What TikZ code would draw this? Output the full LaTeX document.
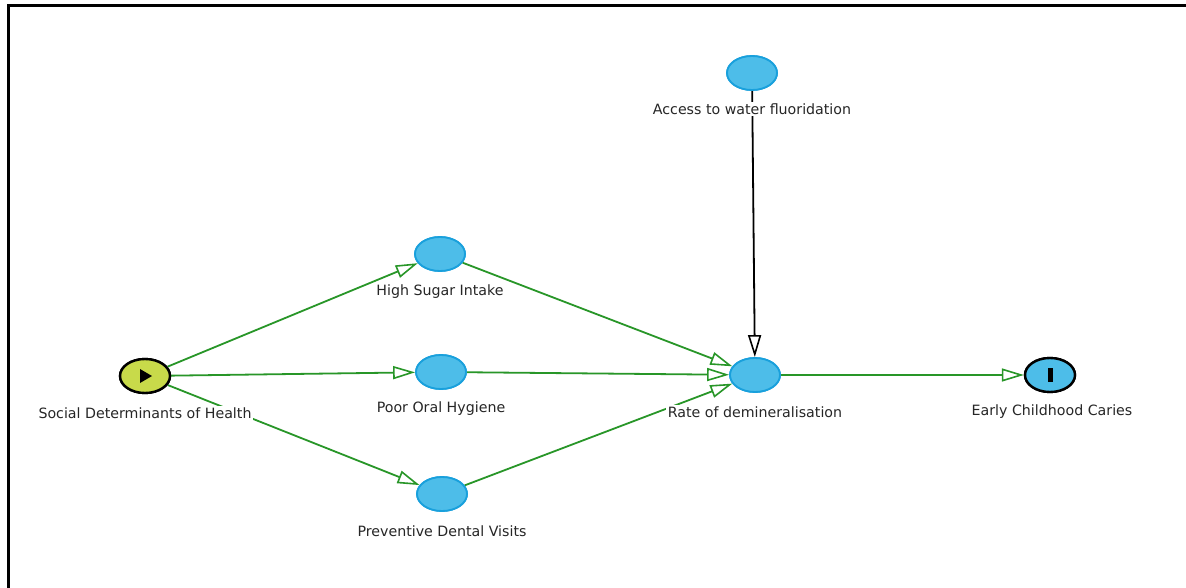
\documentclass[tikz,border=0pt]{standalone}
\usepackage{fontspec}
\setmainfont{DejaVu Sans}
\usetikzlibrary{shapes.geometric,arrows.meta,calc}
\definecolor{edgegreen}{RGB}{40,150,40}
\definecolor{nodeblue}{RGB}{77,189,233}
\definecolor{nodeborder}{RGB}{25,160,220}
\definecolor{startfill}{RGB}{200,218,74}
\tikzset{
  var/.style={ellipse, minimum width=50pt, minimum height=34pt, inner sep=0pt, fill=nodeblue, draw=nodeborder, line width=1.8pt},
  startvar/.style={ellipse, minimum width=50pt, minimum height=34pt, inner sep=0pt, fill=startfill, draw=black, line width=2.4pt},
  endvar/.style={ellipse, minimum width=50pt, minimum height=34pt, inner sep=0pt, fill=nodeblue, draw=black, line width=2.4pt},
  lbl/.style={fill=white, inner sep=1.5pt, font=\fontsize{14.2}{16}\selectfont, text=black!85},
  garrow/.style={draw=edgegreen, line width=1.8pt, -{Triangle[open, length=22pt, width=13pt, line width=1.6pt]}},
  barrow/.style={draw=black, line width=1.8pt, -{Triangle[open, length=22pt, width=13pt, line width=1.6pt]}},
}
\begin{document}
\begin{tikzpicture}[x=1pt,y=-1pt]
\useasboundingbox (0,0) rectangle (1186,588);
\fill[white] (0,0) rectangle (1186,588);
\draw[line width=3pt] (8,600) -- (8,6) -- (1200,6);
% nodes
\node[startvar] (sdh) at (145,376) {};
\node[var] (sugar) at (440,254) {};
\node[var] (hyg) at (441,372) {};
\node[var] (prev) at (442,494) {};
\node[var] (rate) at (755,375) {};
\node[var] (acc) at (752,73) {};
\node[endvar] (ecc) at (1050,375) {};
% edges
\draw[garrow] (sdh) -- (sugar);
\draw[garrow] (sdh) -- (hyg);
\draw[garrow] (sdh) -- (prev);
\draw[garrow] (sugar) -- (rate);
\draw[garrow] (hyg) -- (rate);
\draw[garrow] (prev) -- (rate);
\draw[barrow] (acc) -- (rate);
\draw[garrow] (rate) -- (ecc);
% labels
\node[lbl] (lsdh) at (145,413) {Social Determinants of Health};
\node[lbl] (lsugar) at (440,292) {High Sugar Intake};
\node[lbl] (lhyg) at (441,409) {Poor Oral Hygiene};
\node[lbl] (lprev) at (442,531) {Preventive Dental Visits};
\node[lbl] (lrate) at (755,412) {Rate of demineralisation};
\node[lbl] (lacc) at (752,109) {Access to water fluoridation};
\node[lbl] (lecc) at (1052,412) {Early Childhood Caries};
% redraw nodes on top
\node[startvar] at (sdh) {};
\node[var] at (sugar) {};
\node[var] at (hyg) {};
\node[var] at (prev) {};
\node[var] at (rate) {};
\node[var] at (acc) {};
\node[endvar] at (ecc) {};
\fill[black] ($(sdh)+(-5,-7)$) -- ($(sdh)+(7,0)$) -- ($(sdh)+(-5,7)$) -- cycle;
\fill[black] ($(ecc)+(-2.5,-7)$) rectangle ($(ecc)+(2.5,7)$);
\end{tikzpicture}
\end{document}
